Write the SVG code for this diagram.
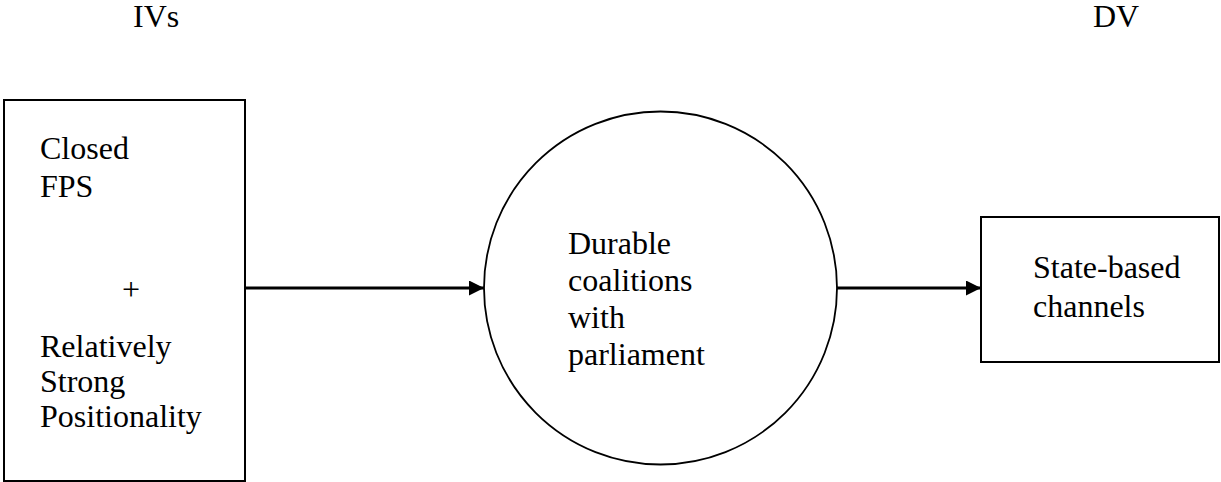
<svg xmlns="http://www.w3.org/2000/svg" width="1221" height="482" viewBox="0 0 1221 482">
<style>
text{font-family:"Liberation Serif","Times New Roman",serif;font-size:32px;fill:#000}
.box{fill:#fff;stroke:#000;stroke-width:2}
.edge{stroke:#000;stroke-width:3;fill:none}
</style>
<defs>
<marker id="arr" markerWidth="16" markerHeight="16" refX="15" refY="7.5" orient="auto" markerUnits="userSpaceOnUse">
<path d="M0,0 L15,7.5 L0,15 Z" fill="#000"/>
</marker>
</defs>
<rect width="1221" height="482" fill="#fff"/>
<g id="headers">
<text x="133" y="27">IVs</text>
<text x="1093" y="27">DV</text>
</g>
<g id="connectors">
<line class="edge" x1="245" y1="288" x2="484" y2="288" marker-end="url(#arr)"/>
<line class="edge" x1="837" y1="288" x2="981" y2="288" marker-end="url(#arr)"/>
</g>
<g id="ivs">
<rect class="box" x="4" y="100" width="241" height="381"/>
<text x="40" y="159">Closed</text>
<text x="40" y="197">FPS</text>
<text x="131" y="300" text-anchor="middle">+</text>
<text x="40" y="357">Relatively</text>
<text x="40" y="392">Strong</text>
<text x="40" y="427">Positionality</text>
</g>
<g id="mediator">
<circle cx="660.5" cy="288" r="176.5" fill="#fff" stroke="#000" stroke-width="1.8"/>
<text x="568" y="254">Durable</text>
<text x="568" y="291">coalitions</text>
<text x="568" y="328">with</text>
<text x="568" y="365">parliament</text>
</g>
<g id="dv">
<rect class="box" x="981" y="217" width="238" height="145"/>
<text x="1033" y="278">State-based</text>
<text x="1033" y="317">channels</text>
</g>
</svg>
